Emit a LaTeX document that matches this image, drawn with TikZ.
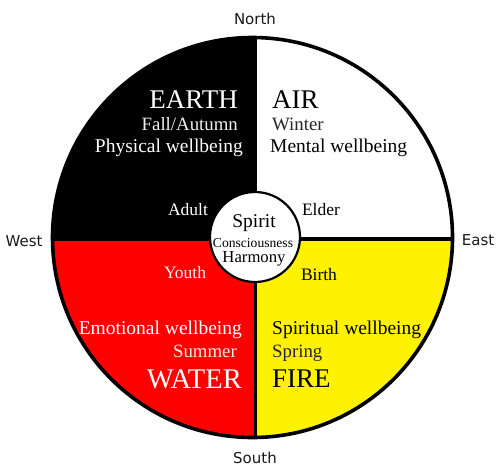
\documentclass[tikz,border=0pt]{standalone}
\usepackage{fontspec}
\setmainfont{Liberation Serif}
\newfontfamily\dirfont{DejaVu Sans}
\begin{document}
\begin{tikzpicture}[x=1pt,y=-1pt,
  dir/.style={font=\dirfont\fontsize{15}{17}\selectfont, text=black!90, inner sep=0pt},
  big/.style={font=\fontsize{27}{30}\selectfont, inner sep=0pt},
  mid/.style={font=\fontsize{18.8}{21}\selectfont, inner sep=0pt},
  well/.style={font=\fontsize{19.5}{22}\selectfont, inner sep=0pt},
  age/.style={font=\fontsize{17.5}{20}\selectfont, inner sep=0pt}]
\useasboundingbox (0,0) rectangle (500,471);
\fill[white] (0,0) rectangle (500,471);
\coordinate (C) at (252.5,237.5);
\coordinate (D) at (255.5,239);
% quadrants
\begin{scope}
  \clip (C) circle[radius=200pt];
  \fill[black] (0,0) rectangle (D);
  \fill[red] (0,239) rectangle (255.5,471);
  \fill[yellow] (D) rectangle (500,471);
  \draw[line width=3.2pt] (255.5,0) -- (255.5,471);
  \draw[line width=3.6pt] (0,239) -- (500,239);
\end{scope}
\draw[line width=3.6pt] (C) circle[radius=200pt];
% inner circle
\node[circle, draw, line width=2.2pt, fill=white, minimum size=90pt, inner sep=0pt] (hub) at (255,237) {};
% directions
\node[dir] (north) at (255,19) {North};
\node[dir] (west) at (24,241) {West};
\node[dir] (east) at (478,240) {East};
\node[dir] (south) at (255,458) {South};
% EARTH
\node[big, text=white, anchor=base east] (earth) at (238,108) {EARTH};
\node[mid, text=white!94!black, anchor=base east] (fall) at (238,130.5) {Fall/Autumn};
\node[well, text=white, anchor=base east] (phys) at (243,152) {Physical wellbeing};
% AIR
\node[big, text=black, anchor=base west] (air) at (272,108) {AIR};
\node[mid, text=black!85, anchor=base west] (winter) at (272,130.5) {Winter};
\node[well, text=black, anchor=base west] (ment) at (270,152) {Mental wellbeing};
% WATER
\node[well, text=white, anchor=base east] (emo) at (242,334) {Emotional wellbeing};
\node[mid, text=red!8!white, anchor=base east] (summer) at (237,357) {Summer};
\node[big, font=\fontsize{28.5}{31}\selectfont, text=white, anchor=base east] (water) at (242,388) {WATER};
% FIRE
\node[well, text=black, anchor=base west] (spir) at (272,334) {Spiritual wellbeing};
\node[mid, text=black!85, anchor=base west] (spring) at (272,357) {Spring};
\node[big, text=black, anchor=base west] (fire) at (272,387) {FIRE};
% ages
\node[age, text=white, anchor=base] (adult) at (188,215) {Adult};
\node[age, text=black, anchor=base] (elder) at (321,215) {Elder};
\node[age, text=red!5!white, anchor=base] (youth) at (185,278) {Youth};
\node[age, text=black, anchor=base] (birth) at (319,280) {Birth};
% centre
\node[font=\fontsize{19.5}{21}\selectfont, inner sep=0pt, anchor=base] (spirit) at (254,227) {Spirit};
\node[font=\fontsize{13.6}{15}\selectfont, inner sep=0pt, anchor=base] (consc) at (253,247) {Consciousness};
\node[font=\fontsize{16.7}{19}\selectfont, inner sep=0pt, anchor=base] (harm) at (254,262) {Harmony};
\end{tikzpicture}
\end{document}
